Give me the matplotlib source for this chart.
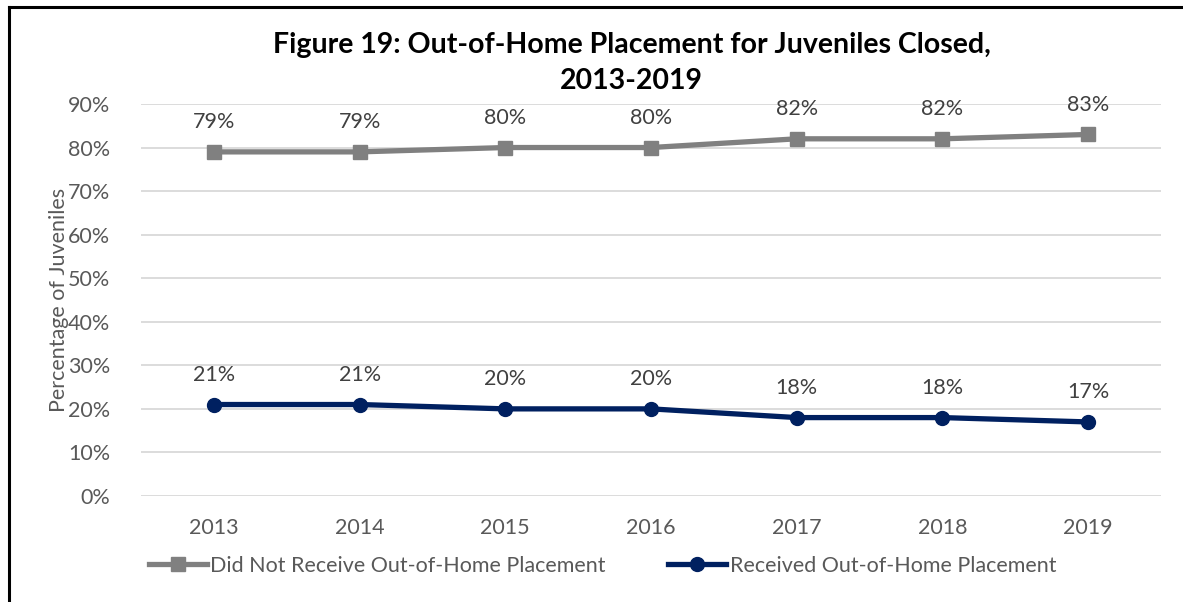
import matplotlib.pyplot as plt
from matplotlib.lines import Line2D

plt.rcParams['font.family'] = ['Lato', 'DejaVu Sans']

years = ["2013", "2014", "2015", "2016", "2017", "2018", "2019"]
no_placement = [79, 79, 80, 80, 82, 82, 83]
placement = [21, 21, 20, 20, 18, 18, 17]

grey = "#808080"
navy = "#002060"
text_col = "#595959"
fs = 15.5

fig = plt.figure(figsize=(11.83, 6.02), dpi=100)
ax = fig.add_axes([0.1192, 0.1761, 0.8622, 0.6512])

x = range(len(years))
ax.plot(x, no_placement, color=grey, lw=3.8, marker="s", ms=10, zorder=3,
        label="Did Not Receive Out-of-Home Placement")
ax.plot(x, placement, color=navy, lw=3.8, marker="o", ms=10, zorder=3,
        label="Received Out-of-Home Placement")

for series in (no_placement, placement):
    for i, v in enumerate(series):
        ax.annotate(f"{v}%", (i, v), xytext=(0, 14), textcoords="offset points",
                    ha="center", va="bottom", fontsize=fs, color="#404040")

ax.set_xlim(-0.5, len(years) - 0.5)
ax.set_ylim(0, 90)
ax.set_yticks(range(0, 91, 10))
ax.set_yticklabels([f"{t}%" for t in range(0, 91, 10)])
ax.set_xticks(list(x))
ax.set_xticklabels(years)
ax.tick_params(length=0, labelsize=fs, colors=text_col)
ax.tick_params(axis="x", pad=16)
ax.tick_params(axis="y", pad=22)
ax.grid(axis="y", color="#D9D9D9", lw=1.3)
ax.set_axisbelow(True)
for s in ax.spines.values():
    s.set_visible(False)

ax.set_ylabel("Percentage of Juveniles", fontsize=fs, color=text_col)
ax.yaxis.set_label_coords(-0.071, 0.5)

fig.text(0.534, 0.895, "Figure 19: Out-of-Home Placement for Juveniles Closed,\n2013-2019",
         ha="center", va="center", fontsize=20.5, fontweight="bold", linespacing=1.45)

fig.legend(loc="center left", bbox_to_anchor=(0.126, 0.06), ncol=2, frameon=False,
           fontsize=fs, labelcolor=text_col, handlelength=2.7, handletextpad=0.15,
           columnspacing=2.9, borderaxespad=0, borderpad=0)

# frame edges of the chart box
fig.add_artist(Line2D([0.0076, 0.0076], [0, 0.988], color="black", lw=2.2))
fig.add_artist(Line2D([0.0076, 1], [0.988, 0.988], color="black", lw=2.2))

fig.savefig("out.png", dpi=100)
